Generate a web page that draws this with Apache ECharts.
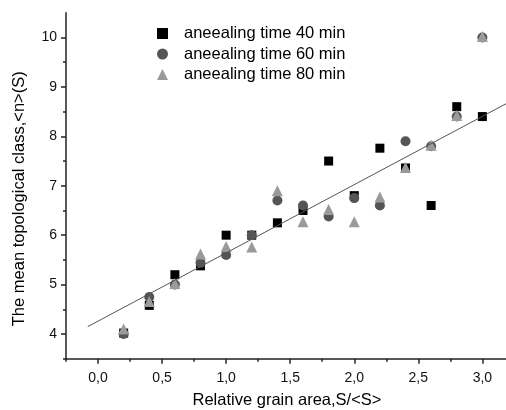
<!DOCTYPE html>
<html>
<head>
<meta charset="utf-8">
<script src="https://cdn.jsdelivr.net/npm/echarts@6/dist/echarts.min.js"></script>
<style>
  html, body { margin: 0; padding: 0; background: #fff; }
  #chart { width: 506px; height: 410px; }
</style>
</head>
<body>
<div id="chart"></div>
<script>
// Relative grain area S/<S>
const areaValues = [0.2, 0.4, 0.6, 0.8, 1.0, 1.2, 1.4, 1.6, 1.8, 2.0, 2.2, 2.4, 2.6, 2.8, 3.0];

// mean topological class <n>(S) per annealing time
const time40 = [4.02, 4.58, 5.2, 5.38, 6.0, 6.0, 6.25, 6.5, 7.5, 6.8, 7.76, 7.36, 6.6, 8.6, 8.4];
const time60 = [4.0, 4.75, 5.0, 5.44, 5.6, 6.0, 6.7, 6.6, 6.38, 6.75, 6.6, 7.9, 7.8, 8.4, 10.0];
const time80 = [4.1, 4.66, 5.02, 5.62, 5.77, 5.76, 6.9, 6.27, 6.52, 6.27, 6.77, 7.37, 7.82, 8.42, 10.02];

const seriesNames = ['aneealing time 40 min', 'aneealing time 60 min', 'aneealing time 80 min'];

// linear fit drawn in the picture, end points
const fitX = [-0.08, 3.2];
const fitY = [4.15, 8.68];

const xMajor = [0, 0.5, 1.0, 1.5, 2.0, 2.5, 3.0];
const xMinor = [-0.25, 0.25, 0.75, 1.25, 1.75, 2.25, 2.75];
const yMajor = [4, 5, 6, 7, 8, 9, 10];
const yMinor = [3.5, 4.5, 5.5, 6.5, 7.5, 8.5, 9.5];

const pairs = (ys) => areaValues.map((x, i) => [x, ys[i]]);
const font = 'Liberation Sans, Arial, sans-serif';
const axisColor = '#222';

const chart = echarts.init(document.getElementById('chart'));

const baseX = {
  type: 'value', min: -0.25, max: 3.2, position: 'bottom', offset: 0,
  splitLine: { show: false }
};
const baseY = {
  type: 'value', min: 3.5, max: 10.5, position: 'left', offset: 0,
  splitLine: { show: false }
};

chart.setOption({
  animation: false,
  backgroundColor: '#fff',
  grid: { left: 66, right: -2, top: 12.75, bottom: 51.25, containLabel: false, outerBoundsMode: 'none' },
  legend: {
    orient: 'vertical',
    left: 152, top: 20,
    itemWidth: 11, itemHeight: 11, itemGap: 3.5,
    textStyle: { fontFamily: font, fontSize: 16.5, color: '#000', padding: [0, 0, 0, 11] },
    data: seriesNames
  },
  xAxis: [
    Object.assign({}, baseX, {
      name: 'Relative grain area,S/<S>',
      nameLocation: 'middle', nameGap: 33,
      nameTextStyle: { fontFamily: font, fontSize: 16.5, color: '#000' },
      axisLine: { show: true, onZero: false, lineStyle: { color: axisColor, width: 1.5 } },
      axisTick: { show: true, length: 5, customValues: xMajor, lineStyle: { color: axisColor, width: 1.5 } },
      axisLabel: {
        customValues: xMajor, margin: 12,
        fontFamily: font, fontSize: 14, color: '#111',
        formatter: (v) => v.toFixed(1).replace('.', ',')
      }
    }),
    Object.assign({}, baseX, {
      axisLine: { show: false, onZero: false },
      axisTick: { show: true, length: 3, customValues: xMinor, lineStyle: { color: axisColor, width: 1.5 } },
      axisLabel: { show: false }
    })
  ],
  yAxis: [
    Object.assign({}, baseY, {
      name: 'The mean topological class,<n>(S)',
      nameLocation: 'middle', nameGap: 38,
      nameTextStyle: { fontFamily: font, fontSize: 16.5, color: '#000', padding: [0, 0, 0, -26] },
      axisLine: { show: true, onZero: false, lineStyle: { color: axisColor, width: 1.5 } },
      axisTick: { show: true, length: 5, customValues: yMajor, lineStyle: { color: axisColor, width: 1.5 } },
      axisLabel: {
        customValues: yMajor, margin: 9,
        fontFamily: font, fontSize: 14, color: '#111'
      }
    }),
    Object.assign({}, baseY, {
      axisLine: { show: false, onZero: false },
      axisTick: { show: true, length: 3, customValues: yMinor, lineStyle: { color: axisColor, width: 1.5 } },
      axisLabel: { show: false }
    })
  ],
  series: [
    {
      type: 'line', silent: true, showSymbol: false,
      data: [[fitX[0], fitY[0]], [fitX[1], fitY[1]]],
      lineStyle: { color: '#555', width: 1 }
    },
    {
      name: seriesNames[0], type: 'scatter', symbol: 'rect', symbolSize: 9,
      itemStyle: { color: '#000', opacity: 1 }, data: pairs(time40)
    },
    {
      name: seriesNames[1], type: 'scatter', symbol: 'circle', symbolSize: 10,
      itemStyle: { color: '#555', opacity: 1 }, data: pairs(time60)
    },
    {
      name: seriesNames[2], type: 'scatter', symbol: 'triangle', symbolSize: 11,
      itemStyle: { color: '#9a9a9a', opacity: 1 }, data: pairs(time80)
    }
  ]
});
</script>
</body>
</html>
